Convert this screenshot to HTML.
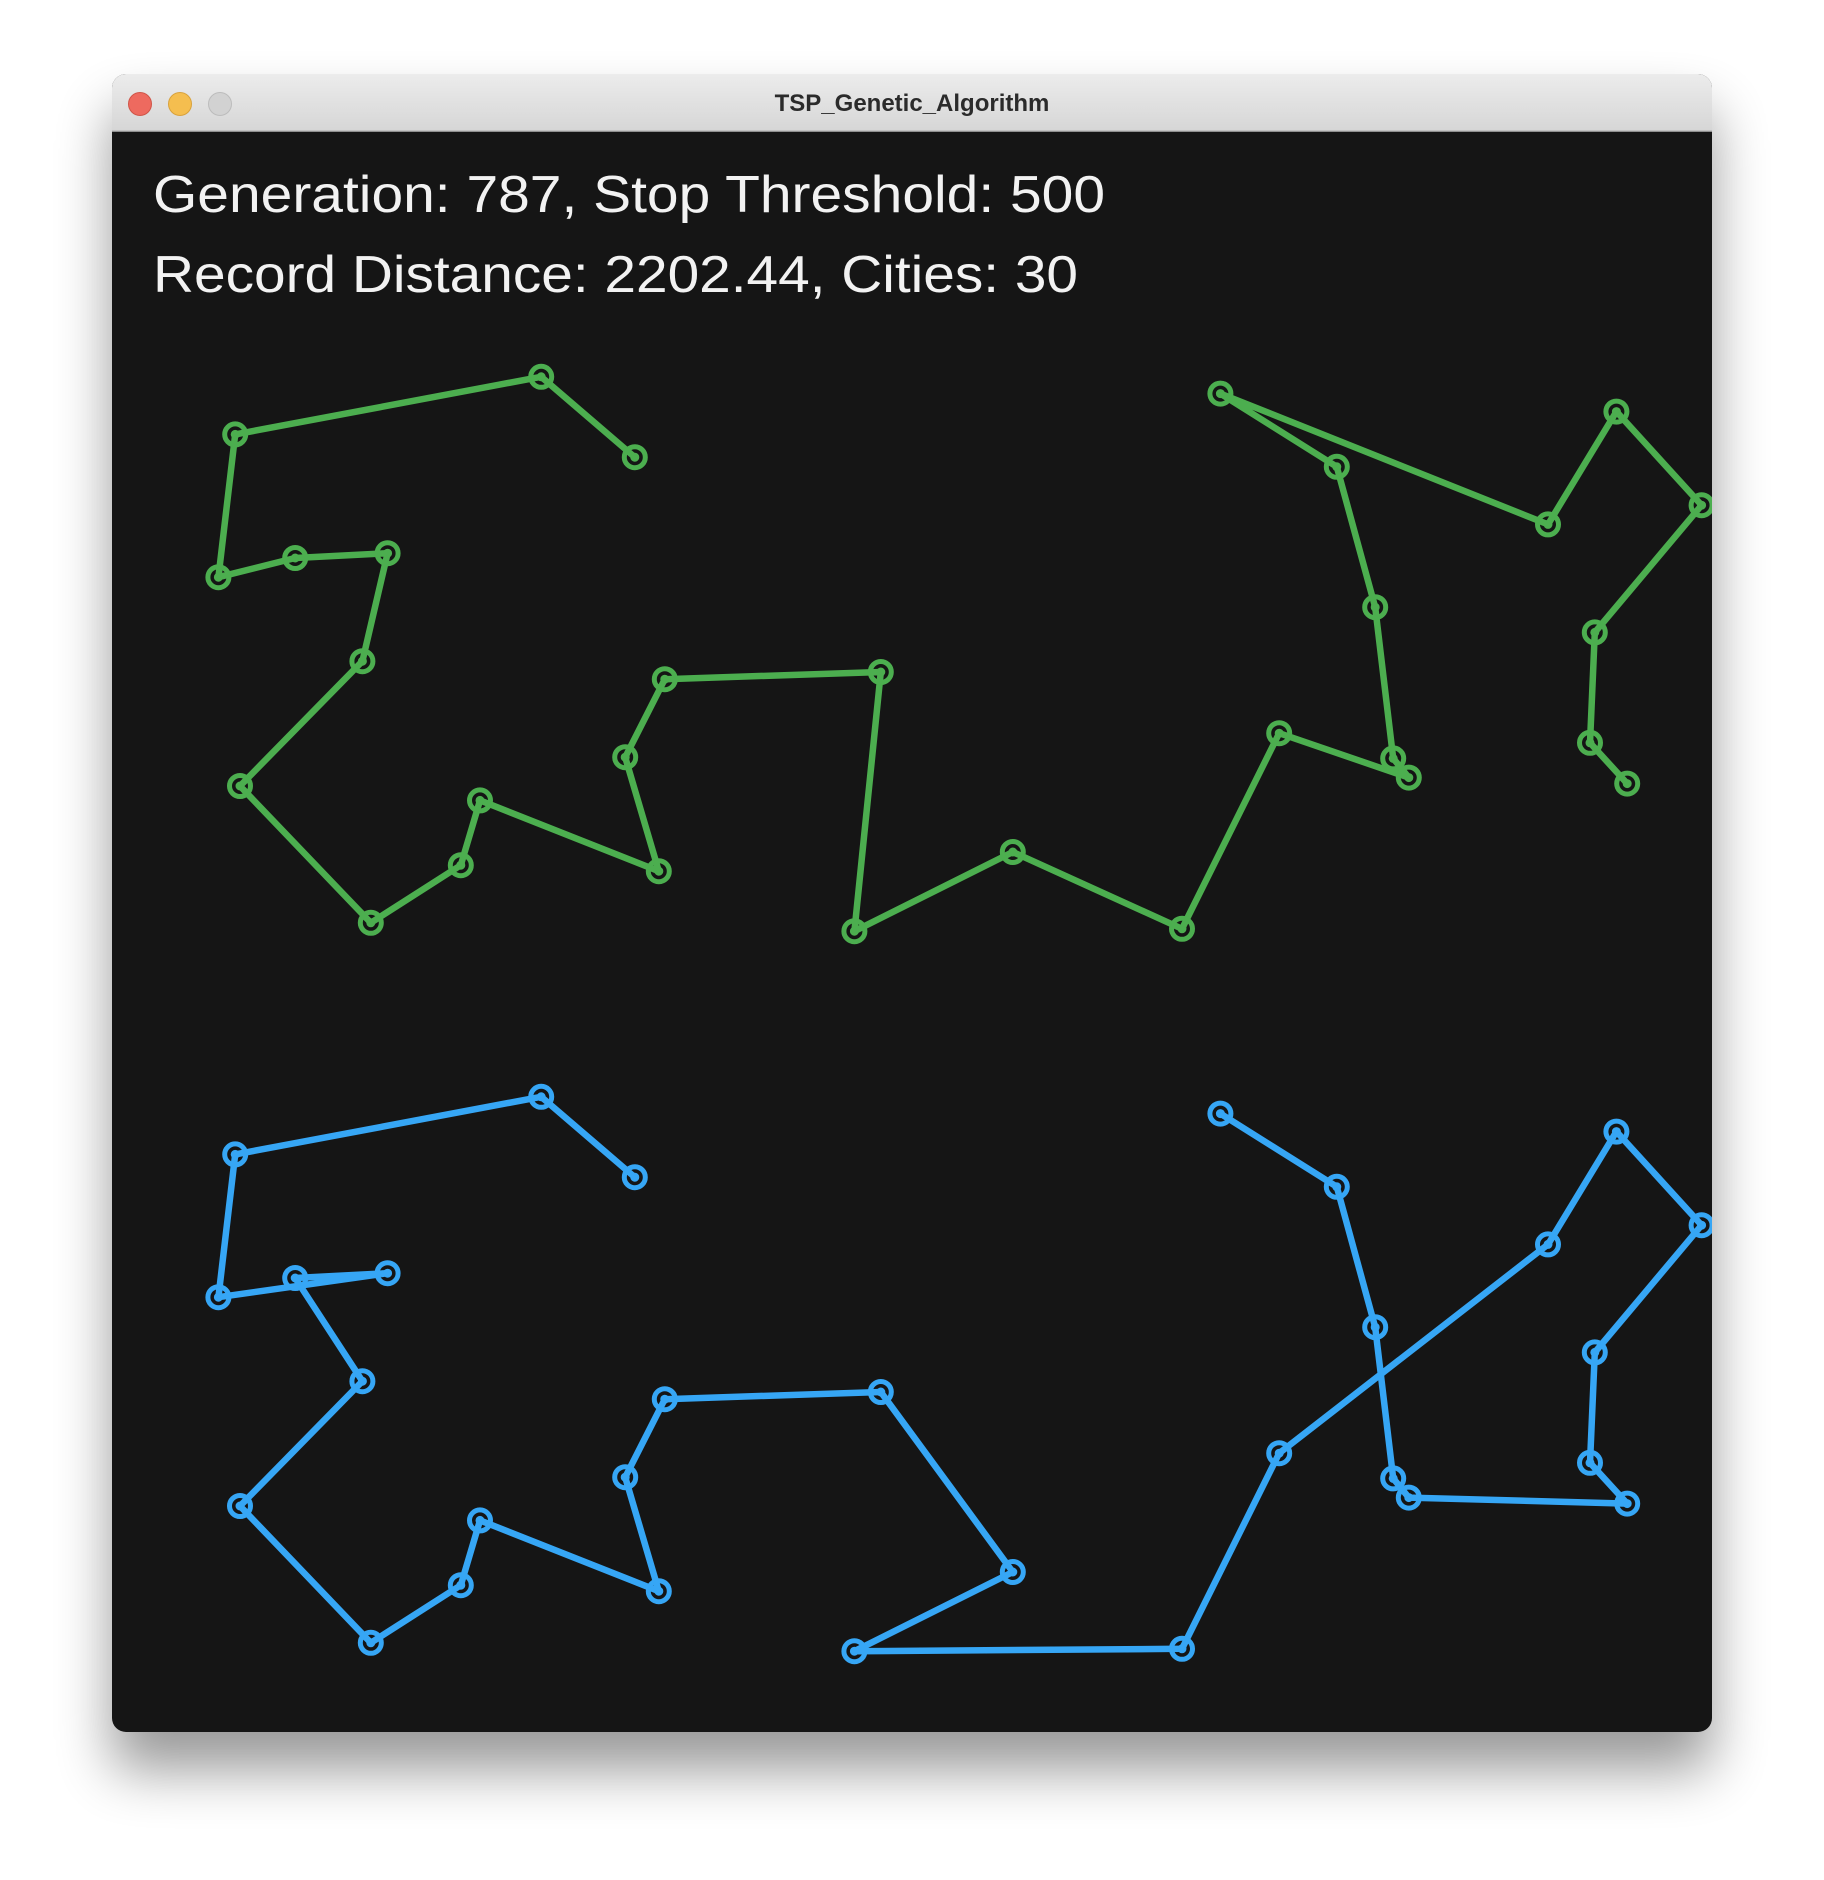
<!DOCTYPE html>
<html><head><meta charset="utf-8"><style>
html,body{margin:0;padding:0;background:#fff;width:1824px;height:1880px;overflow:hidden}
svg{display:block}
</style></head><body>
<svg id="chart" width="1824" height="1880" viewBox="0 0 1824 1880" xmlns="http://www.w3.org/2000/svg">
<defs>
<filter id="sh" x="-20%" y="-20%" width="140%" height="140%"><feGaussianBlur stdDeviation="28"/></filter>
<linearGradient id="tb" x1="0" y1="0" x2="0" y2="1"><stop offset="0" stop-color="#ececec"/><stop offset="1" stop-color="#d6d6d6"/></linearGradient>
<clipPath id="win"><rect x="112" y="74" width="1600" height="1658" rx="14"/></clipPath>
</defs>
<rect x="112" y="110" width="1600" height="1660" rx="14" fill="#000" opacity="0.4" filter="url(#sh)"/>
<g clip-path="url(#win)">
<rect x="112" y="74" width="1600" height="1658" fill="#151515"/>
<rect x="112" y="74" width="1600" height="57" fill="url(#tb)"/>
<line x1="112" y1="131" x2="1712" y2="131" stroke="#b8b8b8" stroke-width="1.5"/>
<g id="plot"></g>
</g>
<circle cx="140" cy="104" r="11.5" fill="#ee6a5f" stroke="#d05548" stroke-width="1"/>
<circle cx="180" cy="104" r="11.5" fill="#f5be4f" stroke="#d9a23c" stroke-width="1"/>
<circle cx="220" cy="104" r="11.5" fill="#d2d2d2" stroke="#bcbcbc" stroke-width="1"/>
<text x="912" y="111" text-anchor="middle" font-family="Liberation Sans, sans-serif" font-weight="bold" font-size="24" fill="#2b2b2b">TSP_Genetic_Algorithm</text>
<text x="153" y="212" font-family="Liberation Sans, sans-serif" font-size="52" fill="#f2f2f2" textLength="952" lengthAdjust="spacingAndGlyphs">Generation: 787, Stop Threshold: 500</text>
<text x="153" y="292" font-family="Liberation Sans, sans-serif" font-size="52" fill="#f2f2f2" textLength="925" lengthAdjust="spacingAndGlyphs">Record Distance: 2202.44, Cities: 30</text>
</svg>
<script>
// City positions (display units, upper panel), 30 cities
const cityX = [529,451,196,182,246,323,302,200,309,384,400,549,521,554,734,712,844,985,1066,1174,1161,1146,1114,1017,1290,1347,1418,1329,1325,1356];
const cityY = [381,314,362,481,465,461,551,655,769,721,667,726,631,566,560,776,710,774,611,648,632,506,389,328,437,343,421,527,619,653];
// Best tour (green, top) – indices into cities
const bestTour = [0,1,2,3,4,5,6,7,8,9,10,11,12,13,14,15,16,17,18,19,20,21,22,23,24,25,26,27,28,29];
// Current tour (blue, bottom)
const currentTour = [0,1,2,3,5,4,6,7,8,9,10,11,12,13,14,16,15,17,18,24,25,26,27,28,29,19,20,21,22,23];

const S = 1.2, OX = 0, OY = 0, PANEL_OFFSET = 600;
function px(x){ return OX + x * S; }
function py(y, panel){ return OY + (y + panel * PANEL_OFFSET) * S; }
const NS = 'http://www.w3.org/2000/svg';
const plot = document.getElementById('plot');

function drawTour(tour, panel, color, name){
  const g = document.createElementNS(NS,'g');
  
  
  const pts = tour.map(i => px(cityX[i]).toFixed(1)+','+py(cityY[i],panel).toFixed(1)).join(' ');
  const pl = document.createElementNS(NS,'polyline');
  
  
  pl.setAttribute('points', pts);
  pl.setAttribute('fill','none');
  pl.setAttribute('stroke',color);
  pl.setAttribute('stroke-width','6.5');
  pl.setAttribute('stroke-linejoin','round');
  pl.setAttribute('stroke-linecap','round');
  g.appendChild(pl);
  for (let k = 0; k < cityX.length; k++){
    const c = document.createElementNS(NS,'circle');
    
    
    c.setAttribute('cx', px(cityX[k]));
    c.setAttribute('cy', py(cityY[k],panel));
    c.setAttribute('r', 10.5);
    c.setAttribute('fill','none');
    c.setAttribute('stroke',color);
    c.setAttribute('stroke-width','5');
    g.appendChild(c);
    const d = document.createElementNS(NS,'circle');
    
    
    d.setAttribute('cx', px(cityX[k]));
    d.setAttribute('cy', py(cityY[k],panel));
    d.setAttribute('r', 3.5);
    d.setAttribute('fill','none');
    d.setAttribute('stroke',color);
    d.setAttribute('stroke-width','2');
    g.appendChild(d);
  }
  plot.appendChild(g);
}
drawTour(bestTour, 0, '#4cae4f', 'best-tour');
drawTour(currentTour, 1, '#36a6f5', 'current-tour');
</script>
</body></html>
